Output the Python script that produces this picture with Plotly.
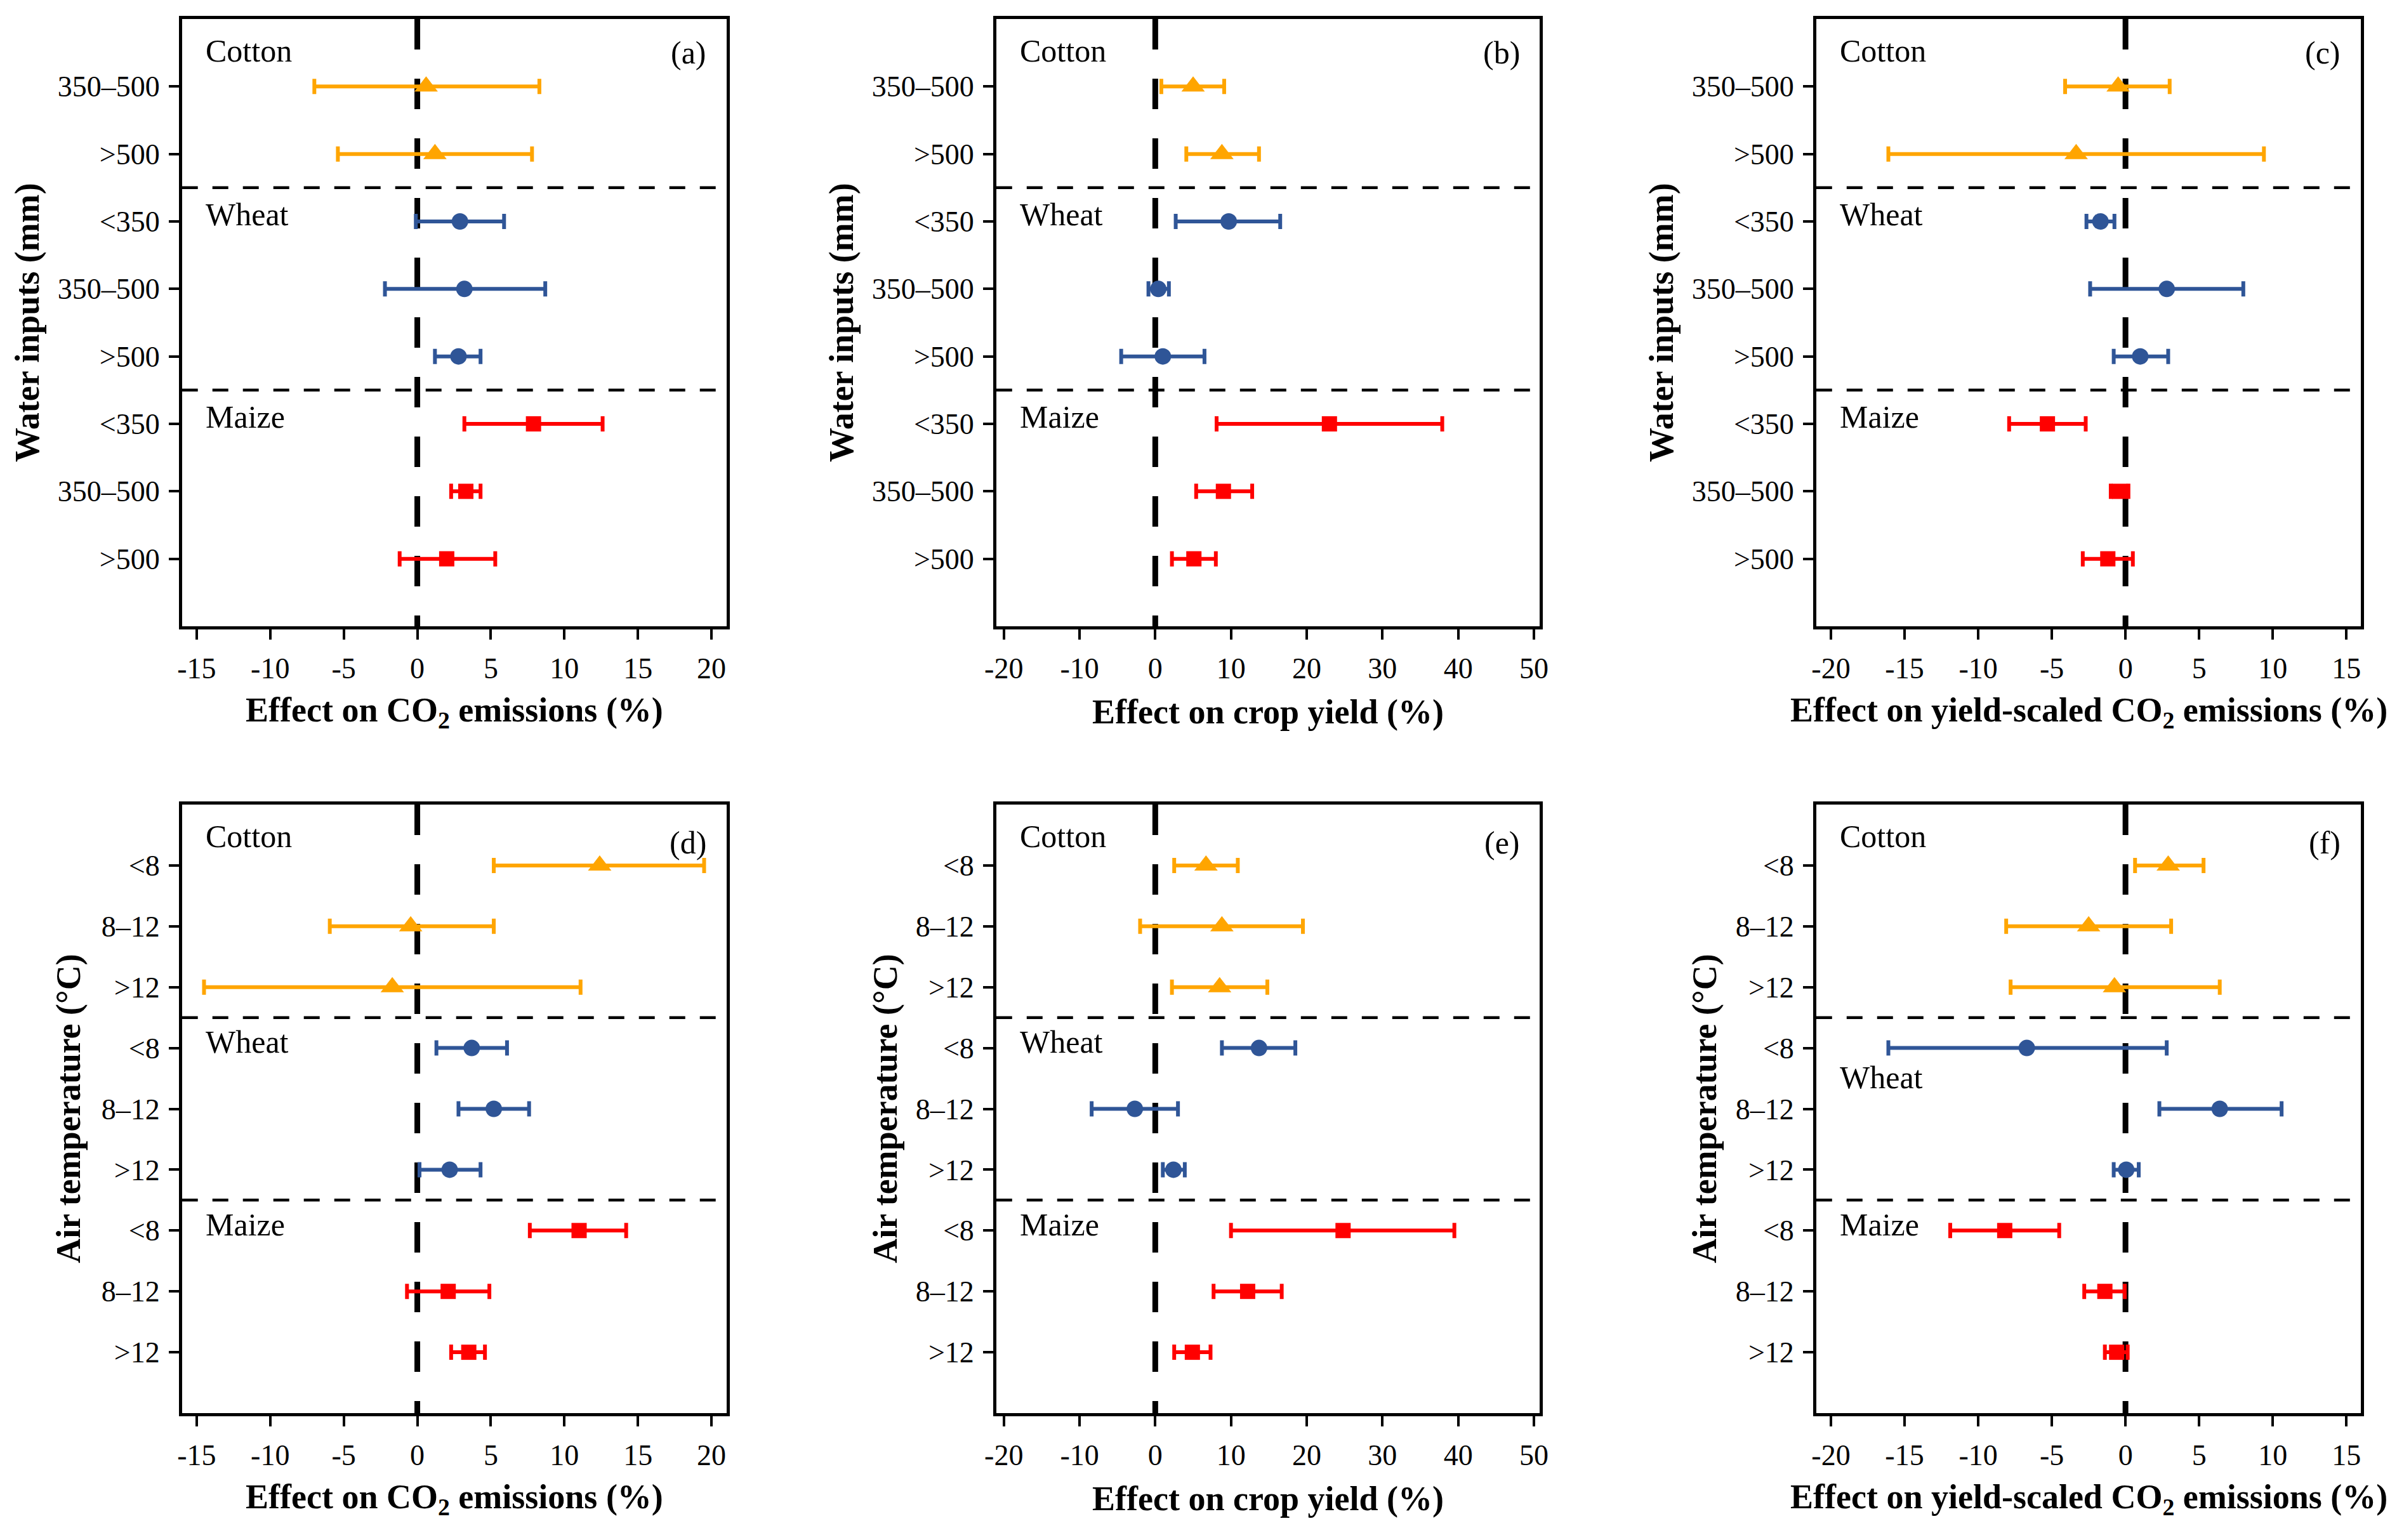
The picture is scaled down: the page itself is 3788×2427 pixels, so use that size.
import plotly.graph_objects as go

# ---------------- data ----------------
water_rows = ["350–500", ">500", "<350", "350–500", ">500", "<350", "350–500", ">500"]
water_crops = ["Cotton", "Cotton", "Wheat", "Wheat", "Wheat", "Maize", "Maize", "Maize"]
temp_rows = ["<8", "8–12", ">12", "<8", "8–12", ">12", "<8", "8–12", ">12"]
temp_crops = ["Cotton", "Cotton", "Cotton", "Wheat", "Wheat", "Wheat", "Maize", "Maize", "Maize"]

# (a) water inputs - CO2 emissions
a_mean = [0.6, 1.2, 2.9, 3.2, 2.8, 7.9, 3.3, 2.0]
a_lo = [-7.0, -5.4, -0.1, -2.2, 1.2, 3.2, 2.3, -1.2]
a_hi = [8.3, 7.8, 5.9, 8.7, 4.3, 12.6, 4.3, 5.3]
# (b) water inputs - crop yield
b_mean = [5.0, 8.8, 9.7, 0.4, 1.0, 23.0, 9.0, 5.1]
b_lo = [0.8, 4.1, 2.7, -0.9, -4.5, 8.1, 5.4, 2.2]
b_hi = [9.1, 13.7, 16.5, 1.8, 6.5, 37.9, 12.8, 8.0]
# (c) water inputs - yield-scaled CO2 emissions
c_mean = [-0.5, -3.35, -1.7, 2.8, 1.0, -5.3, -0.4, -1.2]
c_lo = [-4.1, -16.1, -2.65, -2.4, -0.8, -7.9, -1.0, -2.9]
c_hi = [3.0, 9.4, -0.75, 8.0, 2.9, -2.7, 0.2, 0.5]
# (d) air temperature - CO2 emissions
d_mean = [12.4, -0.45, -1.7, 3.7, 5.2, 2.2, 11.0, 2.1, 3.5]
d_lo = [5.2, -5.95, -14.5, 1.3, 2.8, 0.15, 7.65, -0.7, 2.3]
d_hi = [19.5, 5.2, 11.1, 6.1, 7.6, 4.3, 14.2, 4.9, 4.6]
# (e) air temperature - crop yield
e_mean = [6.7, 8.8, 8.5, 13.7, -2.7, 2.4, 24.8, 12.2, 4.9]
e_lo = [2.5, -2.0, 2.2, 8.8, -8.4, 1.0, 10.0, 7.7, 2.5]
e_hi = [10.9, 19.5, 14.8, 18.5, 3.0, 3.9, 39.5, 16.7, 7.3]
# (f) air temperature - yield-scaled CO2 emissions
f_mean = [2.9, -2.5, -0.75, -6.7, 6.4, 0.05, -8.2, -1.4, -0.6]
f_lo = [0.65, -8.1, -7.8, -16.1, 2.3, -0.8, -11.9, -2.8, -1.4]
f_hi = [5.3, 3.1, 6.4, 2.8, 10.6, 0.9, -4.5, -0.05, 0.15]

ticks_co2 = [-15, -10, -5, 0, 5, 10, 15, 20]
ticks_yield = [-20, -10, 0, 10, 20, 30, 40, 50]
ticks_ys = [-20, -15, -10, -5, 0, 5, 10, 15]

crop_names = ["Cotton", "Wheat", "Maize"]
panel_letters = ["(a)", "(b)", "(c)", "(d)", "(e)", "(f)"]

# ---------------- styling ----------------
W, H = 3788, 2427
FONT = "Liberation Serif"
crop_style = {
    "Cotton": dict(color="#FFA500", symbol="triangle-up", size=32),
    "Wheat": dict(color="#2F5597", symbol="circle", size=26),
    "Maize": dict(color="#FF0000", symbol="square", size=24),
}

col_px = [(270, 1136), (1564, 2428), (2867, 3733)]
row_px = [(30, 987), (1268, 2227)]
ytitle_x = [[24, 1318, 2621], [89, 1387, 2689]]
xranges = [[-16, 21.05], [-21, 50.8], [-21, 16.0]]

panels = [
    dict(mean=a_mean, lo=a_lo, hi=a_hi, rows=water_rows, crops=water_crops, ticks=ticks_co2),
    dict(mean=b_mean, lo=b_lo, hi=b_hi, rows=water_rows, crops=water_crops, ticks=ticks_yield),
    dict(mean=c_mean, lo=c_lo, hi=c_hi, rows=water_rows, crops=water_crops, ticks=ticks_ys),
    dict(mean=d_mean, lo=d_lo, hi=d_hi, rows=temp_rows, crops=temp_crops, ticks=ticks_co2),
    dict(mean=e_mean, lo=e_lo, hi=e_hi, rows=temp_rows, crops=temp_crops, ticks=ticks_yield),
    dict(mean=f_mean, lo=f_lo, hi=f_hi, rows=temp_rows, crops=temp_crops, ticks=ticks_ys),
]
xtitles = ["Effect on CO<sub>2</sub> emissions (%)", "Effect on crop yield (%)",
           "Effect on yield-scaled CO<sub>2</sub> emissions (%)"]
ytitles = ["Water inputs (mm)", "Air temperature (°C)"]

fig = go.Figure()
shapes = []
annotations = []
layout = {}

for i, p in enumerate(panels):
    r, c = divmod(i, 3)
    n = i + 1
    xa = "x" if n == 1 else f"x{n}"
    ya = "y" if n == 1 else f"y{n}"
    nrows = len(p["rows"])
    ypos = list(range(nrows))

    for crop in crop_names:
        idx = [k for k in range(nrows) if p["crops"][k] == crop]
        st = crop_style[crop]
        m = [p["mean"][k] for k in idx]
        fig.add_trace(go.Scatter(
            x=m, y=[ypos[k] for k in idx], mode="markers",
            xaxis=xa, yaxis=ya, showlegend=False,
            marker=dict(color=st["color"], symbol=st["symbol"], size=st["size"], line=dict(width=0)),
            error_x=dict(type="data", symmetric=False,
                         array=[p["hi"][k] - p["mean"][k] for k in idx],
                         arrayminus=[p["mean"][k] - p["lo"][k] for k in idx],
                         color=st["color"], thickness=6, width=12),
        ))

    x0, x1 = col_px[c]
    y0, y1 = row_px[r]
    axis_common = dict(showline=True, linecolor="black", linewidth=4.5, mirror=True,
                       showgrid=False, zeroline=False, ticks="outside", ticklen=16,
                       tickwidth=4, tickcolor="black",
                       tickfont=dict(family=FONT, size=46, color="black"))
    layout["xaxis" + ("" if n == 1 else str(n))] = dict(
        axis_common, domain=[x0 / W, x1 / W], range=xranges[c], anchor=ya,
        tickmode="array", tickvals=p["ticks"], ticktext=[str(t) for t in p["ticks"]],
        ticklabelstandoff=6)
    layout["yaxis" + ("" if n == 1 else str(n))] = dict(
        axis_common, domain=[1 - y1 / H, 1 - y0 / H], range=[nrows, -1], anchor=xa,
        tickmode="array", tickvals=ypos, ticktext=p["rows"], ticklabelstandoff=5)

    # zero line
    shapes.append(dict(type="line", xref=xa, yref=f"{ya} domain", x0=0, x1=0, y0=1, y1=0,
                       line=dict(color="black", width=9, dash="48px,46px"), layer="below"))
    # crop group separators
    bounds = [k - 0.5 for k in range(1, nrows) if p["crops"][k] != p["crops"][k - 1]]
    for b in bounds:
        shapes.append(dict(type="line", xref=f"{xa} domain", yref=ya, x0=0, x1=1, y0=b, y1=b,
                           line=dict(color="black", width=4.5, dash="25px,23px"), layer="below"))

    # crop labels
    for crop in crop_names:
        first = p["crops"].index(crop)
        yl = first - 0.1
        if crop == "Cotton":
            yl = first - 0.53 if nrows == 8 else first - 0.48
        if i == 5 and crop == "Wheat":
            yl = first + 0.48
        annotations.append(dict(text=crop, xref=f"{xa} domain", yref=ya, x=0.041, y=yl,
                                xanchor="left", yanchor="middle", showarrow=False,
                                font=dict(family=FONT, size=50, color="black")))
    # panel letter
    annotations.append(dict(text=panel_letters[i], xref=f"{xa} domain", yref=ya, x=0.965,
                            y=-0.5 if nrows == 8 else -0.37,
                            xanchor="right", yanchor="middle", showarrow=False,
                            font=dict(family=FONT, size=50, color="black")))
    # axis titles
    annotations.append(dict(text="<b>" + xtitles[c] + "</b>", xref="paper", yref="paper",
                            x=(x0 + x1) / 2 / W, y=1 - (y1 + 135) / H,
                            xanchor="center", yanchor="middle", showarrow=False,
                            font=dict(family=FONT, size=54, color="black")))
    annotations.append(dict(text="<b>" + ytitles[r] + "</b>", xref="paper", yref="paper",
                            x=ytitle_x[r][c] / W, y=1 - (y0 + y1) / 2 / H, textangle=-90,
                            xanchor="center", yanchor="middle", showarrow=False,
                            font=dict(family=FONT, size=54, color="black")))

fig.update_layout(**layout)
fig.update_layout(width=W, height=H, margin=dict(l=0, r=0, t=0, b=0),
                  paper_bgcolor="white", plot_bgcolor="white",
                  font=dict(family=FONT, color="black"),
                  shapes=shapes, annotations=annotations, showlegend=False)

fig.write_html("out.html", config={"displayModeBar": False},
               post_script="document.body.style.margin='0px';")
